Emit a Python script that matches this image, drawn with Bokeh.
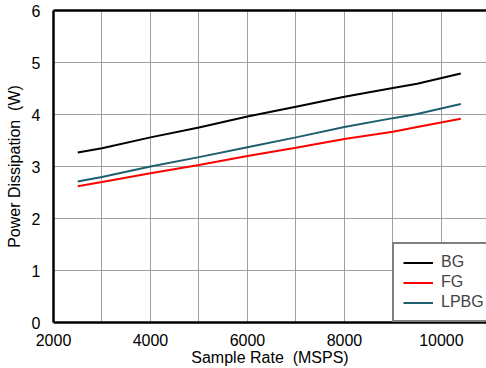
from bokeh.plotting import figure
from bokeh.models import Range1d, LinearAxis, FixedTicker, Legend, LegendItem
from bokeh.embed import file_html
from bokeh.resources import INLINE

sample_rate = [2500, 3000, 4000, 5000, 6000, 7000, 8000, 9000, 9500, 10400]
bg = [3.27, 3.35, 3.56, 3.75, 3.96, 4.15, 4.34, 4.51, 4.59, 4.79]
fg = [2.62, 2.70, 2.87, 3.03, 3.20, 3.36, 3.53, 3.67, 3.76, 3.92]
lpbg = [2.71, 2.80, 3.00, 3.18, 3.37, 3.56, 3.76, 3.93, 4.01, 4.20]
x_ticks = [2000, 4000, 6000, 8000, 10000]
y_ticks = [0, 1, 2, 3, 4, 5, 6]
grid_x = [3000, 4000, 5000, 6000, 7000, 8000, 9000, 10000]

FONT = "Liberation Sans"

p = figure(width=486, height=368, output_backend="svg", toolbar_location=None,
           x_range=Range1d(2000, 10930), y_range=Range1d(0, 6),
           min_border_left=53, min_border_right=0, min_border_top=10, min_border_bottom=46)
p.outline_line_color = None
p.background_fill_color = "white"
p.border_fill_color = "white"

r1 = p.line(sample_rate, bg, line_color="black", line_width=2)
r2 = p.line(sample_rate, fg, line_color="#ff0000", line_width=2)
r3 = p.line(sample_rate, lpbg, line_color="#1d5f6e", line_width=2)

for ax in (p.xaxis[0], p.yaxis[0]):
    ax.axis_line_color = "black"
    ax.axis_line_width = 2.5
    ax.major_tick_line_color = None
    ax.minor_tick_line_color = None
    ax.major_label_text_font = FONT
    ax.major_label_text_font_size = "16px"
    ax.major_label_text_color = "black"
    ax.axis_label_text_font = FONT
    ax.axis_label_text_font_size = "16px"
    ax.axis_label_text_font_style = "normal"
    ax.axis_label_text_color = "black"

p.xaxis[0].ticker = FixedTicker(ticks=x_ticks)
p.yaxis[0].ticker = FixedTicker(ticks=y_ticks)
p.xaxis[0].axis_label = "Sample Rate \u00a0(MSPS)"
p.yaxis[0].axis_label = "Power Dissipation \u00a0(W)"
p.xaxis[0].axis_label_standoff = 0
p.yaxis[0].axis_label_standoff = 6
p.xaxis[0].major_label_standoff = 5
p.yaxis[0].major_label_standoff = 7

top = LinearAxis(ticker=FixedTicker(ticks=[]), axis_line_color="black", axis_line_width=2.5,
                 major_tick_line_color=None, minor_tick_line_color=None,
                 major_label_text_font_size="0px")
p.add_layout(top, "above")

p.xgrid[0].ticker = FixedTicker(ticks=grid_x)
p.ygrid[0].ticker = FixedTicker(ticks=y_ticks)
p.xgrid[0].grid_line_color = "#a0a0a0"
p.ygrid[0].grid_line_color = "#a0a0a0"
p.xgrid[0].grid_line_width = 1
p.ygrid[0].grid_line_width = 1

legend = Legend(items=[LegendItem(label="BG", renderers=[r1]),
                       LegendItem(label="FG", renderers=[r2]),
                       LegendItem(label="LPBG", renderers=[r3])],
                location=(339, 0))
legend.border_line_color = "black"
legend.border_line_width = 2
legend.background_fill_alpha = 1
legend.label_text_font = FONT
legend.label_text_font_size = "16px"
legend.glyph_width = 30
legend.glyph_height = 17
legend.label_height = 17
legend.spacing = 2
legend.padding = 9
legend.margin = 0
legend.label_standoff = 8
p.add_layout(legend)

open("out.html", "w").write(file_html(p, INLINE))
